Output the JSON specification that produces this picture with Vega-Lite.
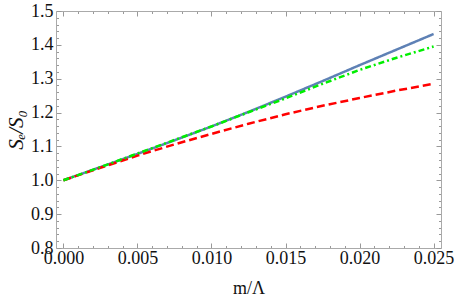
{
  "$schema": "https://vega.github.io/schema/vega-lite/v6.json",
  "width": 385,
  "height": 237,
  "autosize": "none",
  "padding": {"left": 56, "top": 11, "right": 14, "bottom": 56},
  "background": "white",
  "config": {"view": {"stroke": null}, "font": "Liberation Serif"},
  "data": {
    "values": [
      {"x": 0, "y": 1.0, "series": "blue"},
      {"x": 0.0025, "y": 1.039, "series": "blue"},
      {"x": 0.005, "y": 1.078, "series": "blue"},
      {"x": 0.0075, "y": 1.118, "series": "blue"},
      {"x": 0.01, "y": 1.159, "series": "blue"},
      {"x": 0.0125, "y": 1.202, "series": "blue"},
      {"x": 0.015, "y": 1.247, "series": "blue"},
      {"x": 0.0175, "y": 1.293, "series": "blue"},
      {"x": 0.02, "y": 1.34, "series": "blue"},
      {"x": 0.0225, "y": 1.386, "series": "blue"},
      {"x": 0.025, "y": 1.432, "series": "blue"},
      {"x": 0, "y": 1.0, "series": "red"},
      {"x": 0.0025, "y": 1.037, "series": "red"},
      {"x": 0.005, "y": 1.073, "series": "red"},
      {"x": 0.0075, "y": 1.106, "series": "red"},
      {"x": 0.01, "y": 1.137, "series": "red"},
      {"x": 0.0125, "y": 1.167, "series": "red"},
      {"x": 0.015, "y": 1.195, "series": "red"},
      {"x": 0.0175, "y": 1.22, "series": "red"},
      {"x": 0.02, "y": 1.243, "series": "red"},
      {"x": 0.0225, "y": 1.265, "series": "red"},
      {"x": 0.025, "y": 1.285, "series": "red"},
      {"x": 0, "y": 1.0, "series": "green"},
      {"x": 0.0025, "y": 1.039, "series": "green"},
      {"x": 0.005, "y": 1.079, "series": "green"},
      {"x": 0.0075, "y": 1.119, "series": "green"},
      {"x": 0.01, "y": 1.159, "series": "green"},
      {"x": 0.0125, "y": 1.201, "series": "green"},
      {"x": 0.015, "y": 1.242, "series": "green"},
      {"x": 0.0175, "y": 1.285, "series": "green"},
      {"x": 0.02, "y": 1.326, "series": "green"},
      {"x": 0.0225, "y": 1.362, "series": "green"},
      {"x": 0.025, "y": 1.395, "series": "green"}
    ]
  },
  "layer": [
    {
      "mark": {"type": "line", "strokeWidth": 2.5, "clip": true},
      "encoding": {
        "x": {
          "field": "x", "type": "quantitative",
          "scale": {"domain": [-0.0005, 0.0255], "nice": false, "zero": false},
          "axis": {
            "orient": "bottom",
            "values": [0,0.001,0.002,0.003,0.004,0.005,0.006,0.007,0.008,0.009,0.01,0.011,0.012,0.013,0.014,0.015,0.016,0.017,0.018,0.019,0.02,0.021,0.022,0.023,0.024,0.025],
            "labelExpr": "round(datum.value*1000) % 5 === 0 ? format(datum.value, '.3f') : ''",
            "labelOverlap": false, "labelFlush": false,
            "labelFont": "Liberation Serif", "labelFontSize": 18, "labelColor": "#111111",
            "labelPadding": 6,
            "tickSize": {"condition": {"test": "round(datum.value*1000) % 5 === 0", "value": -5}, "value": -2.5},
            "tickColor": "#999999", "tickWidth": 1,
            "domainColor": "#aaaaaa", "domainWidth": 1,
            "grid": false,
            "title": "m/Λ", "titleFont": "Liberation Serif", "titleFontSize": 18, "titleFontWeight": "normal", "titleColor": "#111111", "titlePadding": 10
          }
        },
        "y": {
          "field": "y", "type": "quantitative",
          "scale": {"domain": [0.8, 1.5], "nice": false, "zero": false},
          "axis": {
            "orient": "left",
            "values": [0.8,0.82,0.84,0.86,0.88,0.9,0.92,0.94,0.96,0.98,1.0,1.02,1.04,1.06,1.08,1.1,1.12,1.14,1.16,1.18,1.2,1.22,1.24,1.26,1.28,1.3,1.32,1.34,1.36,1.38,1.4,1.42,1.44,1.46,1.48,1.5],
            "labelExpr": "round(datum.value*100) % 10 === 0 ? format(datum.value, '.1f') : ''",
            "labelOverlap": false, "labelFlush": false,
            "labelFont": "Liberation Serif", "labelFontSize": 18, "labelColor": "#111111",
            "labelPadding": 8,
            "tickSize": {"condition": {"test": "round(datum.value*100) % 10 === 0", "value": -5}, "value": -2.5},
            "tickColor": "#999999", "tickWidth": 1,
            "domainColor": "#aaaaaa", "domainWidth": 1,
            "grid": false,
            "title": "Sₑ/S₀", "titleFont": "Liberation Serif", "titleFontSize": 21, "titleFontStyle": "italic", "titleFontWeight": "normal", "titleColor": "#111111", "titlePadding": 4
          }
        },
        "color": {
          "field": "series", "type": "nominal",
          "scale": {"domain": ["blue", "red", "green"], "range": ["#5E81B5", "#FF0000", "#00EE00"]},
          "legend": null
        },
        "strokeDash": {
          "field": "series", "type": "nominal",
          "scale": {"domain": ["blue", "red", "green"], "range": [[1, 0], [8, 4], [6, 3, 2, 3]]},
          "legend": null
        }
      }
    },
    {
      "mark": {"type": "line", "opacity": 0},
      "encoding": {
        "x": {
          "field": "x", "type": "quantitative",
          "axis": {
            "orient": "top",
            "values": [0,0.001,0.002,0.003,0.004,0.005,0.006,0.007,0.008,0.009,0.01,0.011,0.012,0.013,0.014,0.015,0.016,0.017,0.018,0.019,0.02,0.021,0.022,0.023,0.024,0.025],
            "labels": false,
            "tickSize": {"condition": {"test": "round(datum.value*1000) % 5 === 0", "value": -5}, "value": -2.5},
            "tickColor": "#999999", "tickWidth": 1,
            "domainColor": "#aaaaaa", "domainWidth": 1,
            "grid": false, "title": null
          }
        },
        "y": {
          "field": "y", "type": "quantitative",
          "axis": {
            "orient": "right",
            "values": [0.8,0.82,0.84,0.86,0.88,0.9,0.92,0.94,0.96,0.98,1.0,1.02,1.04,1.06,1.08,1.1,1.12,1.14,1.16,1.18,1.2,1.22,1.24,1.26,1.28,1.3,1.32,1.34,1.36,1.38,1.4,1.42,1.44,1.46,1.48,1.5],
            "labels": false,
            "tickSize": {"condition": {"test": "round(datum.value*100) % 10 === 0", "value": -5}, "value": -2.5},
            "tickColor": "#999999", "tickWidth": 1,
            "domainColor": "#aaaaaa", "domainWidth": 1,
            "grid": false, "title": null
          }
        },
        "detail": {"field": "series", "type": "nominal"}
      }
    }
  ],
  "resolve": {"axis": {"x": "independent", "y": "independent"}}
}
